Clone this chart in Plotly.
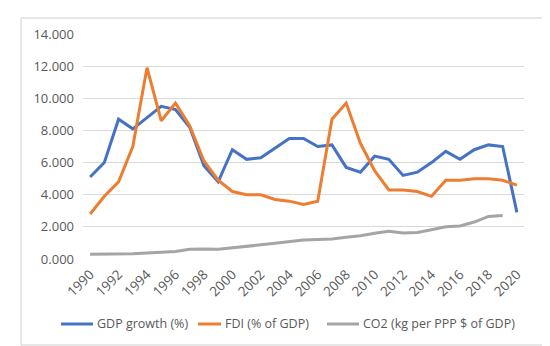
import plotly.graph_objects as go

years = [str(y) for y in range(1990, 2021)]
tick_years = [str(y) for y in range(1990, 2021, 2)]
gdp_growth = [5.1, 6.0, 8.7, 8.1, 8.8, 9.5, 9.3, 8.2, 5.8, 4.8, 6.8, 6.2, 6.3, 6.9, 7.5, 7.5,
              7.0, 7.1, 5.7, 5.4, 6.4, 6.2, 5.2, 5.4, 6.0, 6.7, 6.2, 6.8, 7.1, 7.0, 2.9]
fdi = [2.8, 3.9, 4.8, 7.0, 11.9, 8.6, 9.7, 8.3, 6.1, 4.9, 4.2, 4.0, 4.0, 3.7, 3.6, 3.4,
       3.6, 8.7, 9.7, 7.2, 5.5, 4.3, 4.3, 4.2, 3.9, 4.9, 4.9, 5.0, 5.0, 4.9, 4.6]
co2 = [0.30, 0.30, 0.30, 0.32, 0.37, 0.40, 0.47, 0.60, 0.63, 0.60, 0.68, 0.78, 0.88, 0.98,
       1.10, 1.18, 1.22, 1.24, 1.35, 1.45, 1.60, 1.72, 1.62, 1.65, 1.82, 2.00, 2.05, 2.30,
       2.65, 2.70, None]
y_ticks = [0, 2, 4, 6, 8, 10, 12, 14]
series_names = ["GDP growth (%)", "FDI (% of GDP)", "CO2 (kg per PPP $ of GDP)"]
series_colors = ["#4472C4", "#ED7D31", "#A5A5A5"]

W, H = 550, 346
L, R, T, B = 75, 34, 26, 95
pw, ph = W - L - R, H - T - B


def px_x(p):
    return (p - L) / pw


def px_y(p):
    return (H - B - p) / ph


fig = go.Figure()
for name, vals, col in zip(series_names, [gdp_growth, fdi, co2], series_colors):
    fig.add_trace(go.Scatter(x=years, y=vals, mode="lines", name=name,
                             line=dict(color=col, width=3), showlegend=False))

# Excel-style legend row below the chart
legend_samples = [(53, 85), (190, 213), (319, 351)]
shapes = []
annotations = []
for (x0, x1), name, col in zip(legend_samples, series_names, series_colors):
    shapes.append(dict(type="line", xref="paper", yref="paper",
                       x0=px_x(x0), x1=px_x(x1), y0=px_y(316), y1=px_y(316),
                       line=dict(color=col, width=3)))
    annotations.append(dict(text=name, xref="paper", yref="paper", x=px_x(x1 + 2), y=px_y(316),
                            xanchor="left", yanchor="middle", showarrow=False,
                            font=dict(size=12.5, color="#595959")))

# chart area border
shapes.append(dict(type="rect", xref="paper", yref="paper",
                   x0=px_x(13), x1=px_x(537), y0=px_y(337), y1=px_y(10),
                   line=dict(color="#D0D0D0", width=1), fillcolor="rgba(0,0,0,0)",
                   layer="above"))

fig.update_layout(
    width=W, height=H,
    margin=dict(l=L, r=R, t=T, b=B, autoexpand=False),
    paper_bgcolor="white", plot_bgcolor="white",
    font=dict(family="Open Sans", size=13, color="#595959"),
    showlegend=False,
    xaxis=dict(type="category", tickmode="array", tickvals=tick_years, ticktext=tick_years,
               tickangle=-45, showgrid=False, zeroline=False, showline=False,
               ticks="", range=[-0.5, len(years) - 0.5], ticklabelstandoff=4,
               tickfont=dict(size=13.5)),
    yaxis=dict(range=[0, 14], tickvals=y_ticks, ticktext=[f"{v:.3f}" for v in y_ticks],
               showgrid=True, gridcolor="#D9D9D9", gridwidth=1, zeroline=False,
               showline=False, ticks="", ticklabelstandoff=8),
    shapes=shapes,
    annotations=annotations,
)

fig.write_html("out.html")
